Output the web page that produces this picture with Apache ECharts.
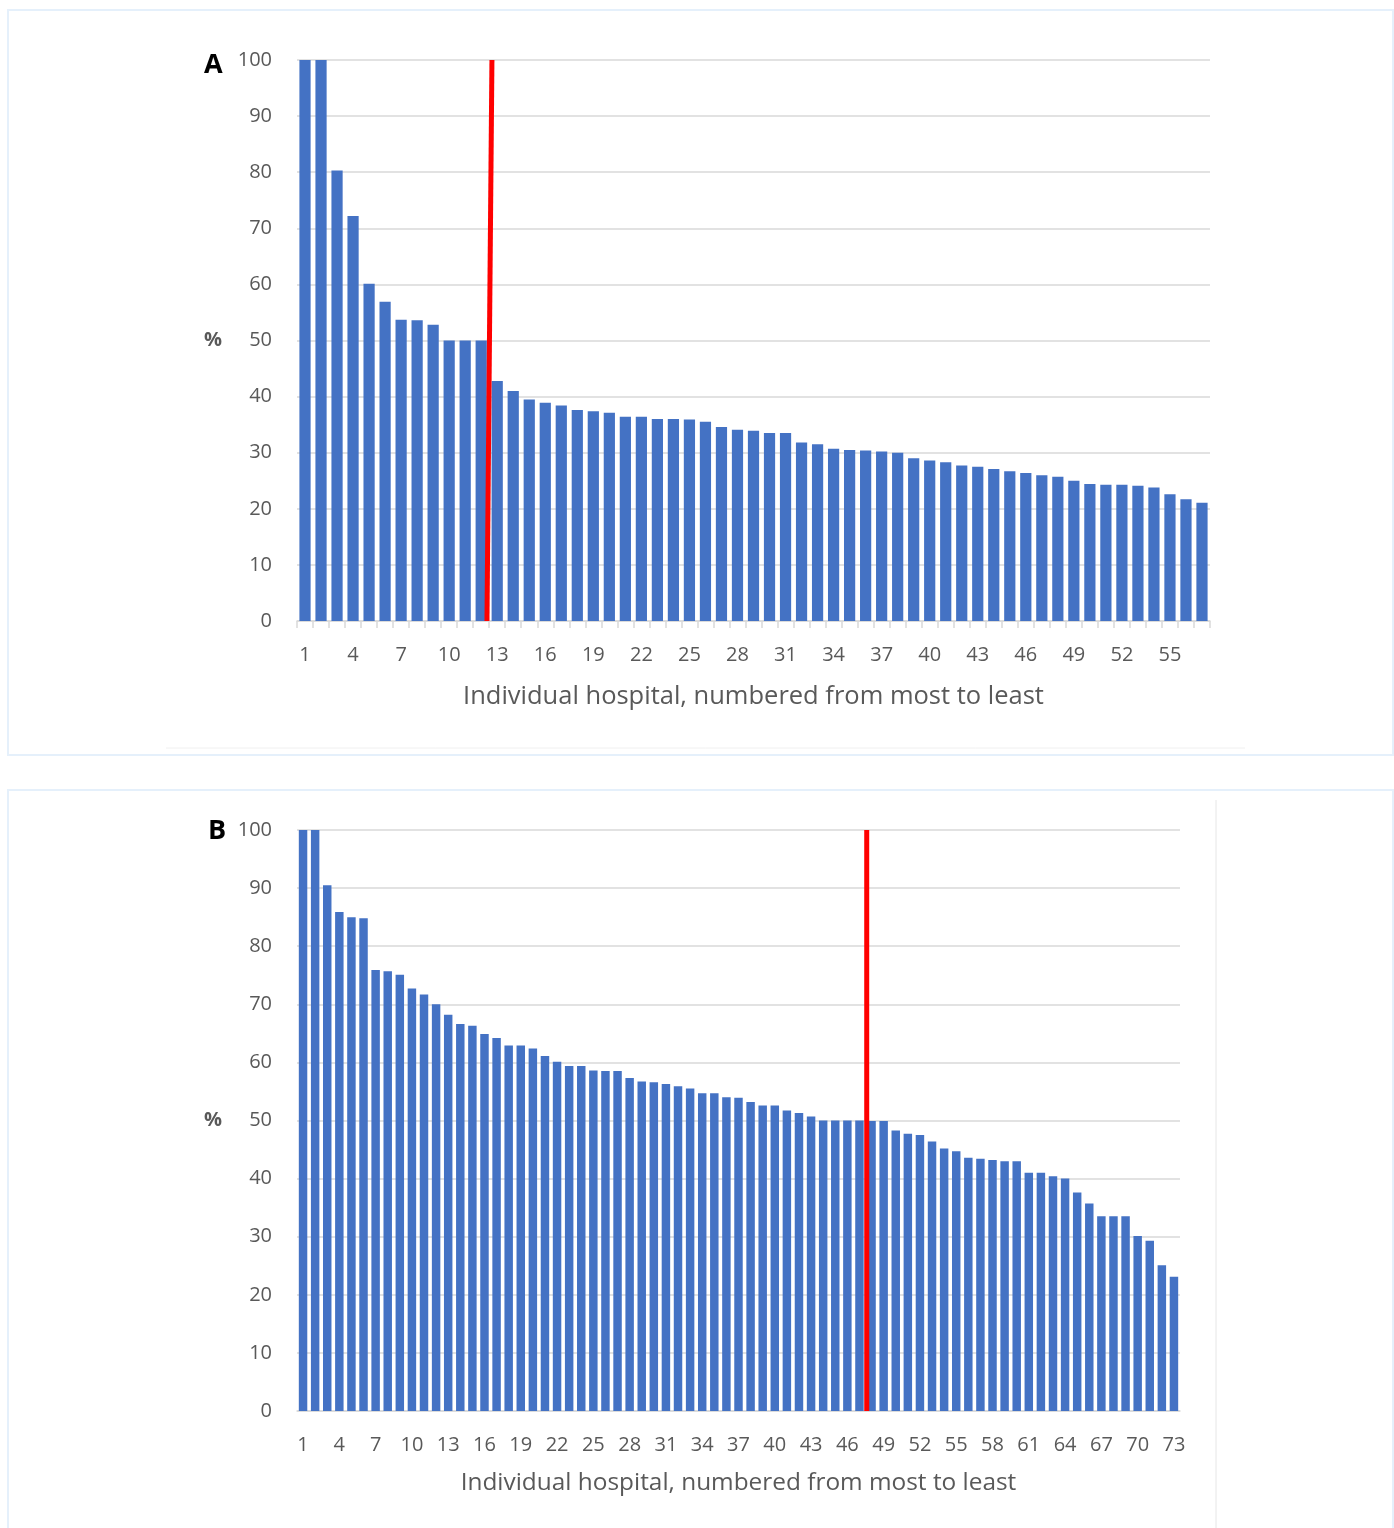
<!DOCTYPE html>
<html>
<head>
<meta charset="utf-8">
<script src="https://cdn.jsdelivr.net/npm/echarts@6/dist/echarts.min.js"></script>
<style>
  html, body { margin: 0; padding: 0; background: #ffffff; }
  #chart { width: 1394px; height: 1528px; }
</style>
</head>
<body>
<div id="chart"></div>
<script>
// Panel A: share (%) per hospital, sorted from most to least
const valuesA = [100, 100, 80.3, 72.2, 60.1, 56.9, 53.7, 53.6, 52.8, 50,
  50, 50, 42.8, 41.0, 39.5, 38.9, 38.4, 37.6, 37.4, 37.1,
  36.4, 36.4, 36.0, 36.0, 35.9, 35.5, 34.6, 34.1, 33.9, 33.5,
  33.5, 31.8, 31.5, 30.7, 30.5, 30.4, 30.2, 30.0, 29.0, 28.6,
  28.3, 27.7, 27.5, 27.1, 26.7, 26.4, 26.0, 25.7, 25.0, 24.4,
  24.3, 24.3, 24.1, 23.8, 22.6, 21.7, 21.1];

// Panel B: share (%) per hospital, sorted from most to least
const valuesB = [100, 100, 90.5, 85.9, 85.0, 84.8, 75.9, 75.7, 75.1, 72.7,
  71.7, 70.0, 68.2, 66.6, 66.3, 64.9, 64.2, 62.9, 62.9, 62.4,
  61.1, 60.1, 59.4, 59.4, 58.6, 58.5, 58.5, 57.3, 56.7, 56.6,
  56.3, 55.9, 55.5, 54.7, 54.7, 54.0, 53.9, 53.2, 52.6, 52.6,
  51.7, 51.3, 50.7, 50.0, 50.0, 50.0, 50.0, 49.9, 49.9, 48.3,
  47.7, 47.5, 46.4, 45.2, 44.7, 43.6, 43.4, 43.2, 43.0, 43.0,
  41.0, 41.0, 40.4, 40.0, 37.6, 35.7, 33.5, 33.5, 33.5, 30.1,
  29.3, 25.1, 23.1];

// Hospital numbers on the category axes
const hospitalsA = valuesA.map((_, i) => String(i + 1));
const hospitalsB = valuesB.map((_, i) => String(i + 1));

// Cut-off markers, in hospital-rank units: [rank, %]
const cutoffA = [[12.36, 0], [12.67, 100]];
const cutoffB = [[47.6, 0], [47.6, 100]];

// Percent axis ticks
const yMin = 0, yMax = 100, yStep = 10;

const axisTitle = 'Individual hospital, numbered from most to least';
const FONT = '"Open Sans", "Noto Sans", sans-serif';
const TEXT = '#595959';
const GRID = '#d9d9d9';
const BAR = '#4472c4';

function categoryAxis(gridIndex, data, withTicks, titleSize) {
  return {
    type: 'category', gridIndex, data,
    axisLine: { show: true, lineStyle: { color: GRID, width: 1.5 } },
    axisTick: { show: withTicks, interval: 0, length: 7, lineStyle: { color: GRID, width: 1.5 } },
    axisLabel: { interval: 2, color: TEXT, fontSize: 20, fontFamily: FONT, margin: 24 },
    name: axisTitle, nameLocation: 'middle', nameGap: withTicks ? 63 : 60,
    nameTextStyle: { color: TEXT, fontSize: titleSize, fontFamily: FONT }
  };
}
function rankAxis(gridIndex, count) {
  return { type: 'value', gridIndex, min: 0.5, max: count + 0.5, show: false };
}
function percentAxis(gridIndex) {
  return {
    type: 'value', gridIndex, min: yMin, max: yMax, interval: yStep,
    axisLine: { show: false }, axisTick: { show: false },
    splitLine: { lineStyle: { color: GRID, width: 1.5 } },
    axisLabel: { color: TEXT, fontSize: 20, fontFamily: FONT, margin: 25 },
    name: '%', nameLocation: 'middle', nameRotate: 0, nameGap: 75,
    nameTextStyle: { color: TEXT, fontSize: 20, fontFamily: FONT, fontWeight: 'bold' }
  };
}

const chart = echarts.init(document.getElementById('chart'), null, { renderer: 'canvas' });
chart.setOption({
  animation: false,
  backgroundColor: '#ffffff',
  grid: [
    { left: 297, top: 60, width: 913, height: 561 },
    { left: 297, top: 830, width: 883, height: 581 }
  ],
  xAxis: [
    categoryAxis(0, hospitalsA, true, 25.5),
    categoryAxis(1, hospitalsB, false, 24.4),
    rankAxis(0, valuesA.length),
    rankAxis(1, valuesB.length)
  ],
  yAxis: [percentAxis(0), percentAxis(1)],
  series: [
    { type: 'bar', xAxisIndex: 0, yAxisIndex: 0, data: valuesA, barCategoryGap: '30%',
      itemStyle: { color: BAR } },
    { type: 'bar', xAxisIndex: 1, yAxisIndex: 1, data: valuesB, barCategoryGap: '30%',
      itemStyle: { color: BAR } },
    { type: 'line', xAxisIndex: 2, yAxisIndex: 0, data: cutoffA, symbol: 'none',
      lineStyle: { color: '#ff0000', width: 5 }, z: 5 },
    { type: 'line', xAxisIndex: 3, yAxisIndex: 1, data: cutoffB, symbol: 'none',
      lineStyle: { color: '#ff0000', width: 5 }, z: 5 }
  ],
  graphic: [
    // panel frames
    { type: 'rect', shape: { x: 8, y: 10, width: 1385, height: 745 },
      style: { fill: null, stroke: '#e5f0fb', lineWidth: 2 }, silent: true },
    { type: 'rect', shape: { x: 8, y: 790, width: 1385, height: 760 },
      style: { fill: null, stroke: '#e5f0fb', lineWidth: 2 }, silent: true },
    // faint plot-area edges
    { type: 'line', shape: { x1: 166, y1: 748, x2: 1245, y2: 748 },
      style: { stroke: '#f0f0f0', lineWidth: 1 }, silent: true },
    { type: 'line', shape: { x1: 1216, y1: 800, x2: 1216, y2: 1528 },
      style: { stroke: '#e6e6e6', lineWidth: 1 }, silent: true },
    // panel letters
    { type: 'text', left: 204, top: 52,
      style: { text: 'A', fontSize: 27, fontWeight: 'bold', fontFamily: FONT, fill: '#000000' } },
    { type: 'text', left: 208, top: 818,
      style: { text: 'B', fontSize: 27, fontWeight: 'bold', fontFamily: FONT, fill: '#000000' } }
  ]
});
</script>
</body>
</html>
